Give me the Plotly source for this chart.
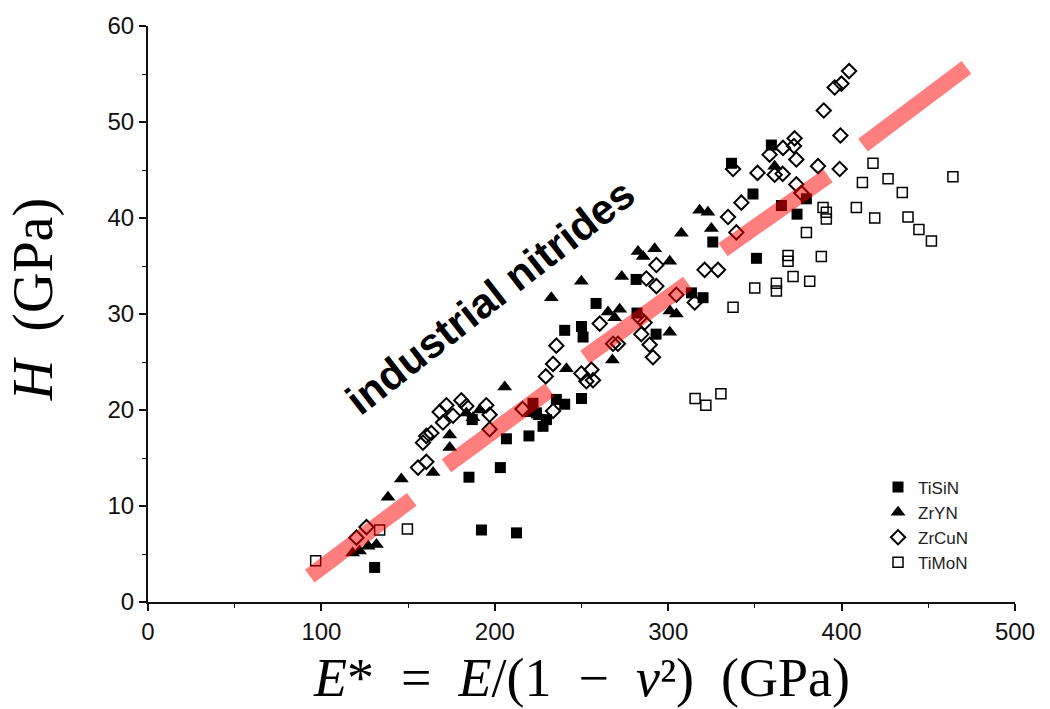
import plotly.graph_objects as go

# ---------------- data ----------------
tisin_x = [130.7, 185.1, 203.2, 192.3, 212.5, 206.7, 219.7, 224.0, 227.8, 229.8, 235.5, 240.3,
           222.0, 187.0, 250.0, 258.4, 240.3, 250.0, 250.9, 281.5, 282.0, 293.0, 320.1, 313.4,
           325.7, 350.9, 348.9, 365.3, 374.3, 379.7, 336.5, 359.5]
tisin_y = [3.6, 13.0, 14.0, 7.5, 7.2, 17.0, 17.3, 19.7, 18.3, 19.0, 21.1, 20.6,
           20.7, 19.0, 21.2, 31.1, 28.3, 28.7, 27.6, 33.6, 30.1, 27.9, 31.7, 32.2,
           37.5, 35.8, 42.5, 41.3, 40.4, 42.0, 45.7, 47.6]

zryn_x = [118.0, 122.0, 127.0, 131.7, 138.4, 146.1, 164.4, 174.0, 174.0, 183.6, 187.4, 191.3,
          205.7, 221.0, 226.0, 232.6, 241.3, 249.9, 265.3, 267.8, 272.0, 269.1, 273.2, 282.6,
          285.5, 292.2, 300.9, 300.9, 301.0, 304.7, 307.6, 318.1, 322.9, 324.9, 361.4]
zryn_y = [5.1, 5.3, 5.8, 6.0, 10.9, 12.8, 13.5, 16.1, 17.4, 19.7, 19.2, 20.0,
          22.4, 19.6, 19.3, 31.7, 24.3, 33.4, 30.2, 25.2, 30.5, 29.6, 33.9, 36.5,
          36.0, 36.8, 35.5, 28.1, 30.3, 30.0, 38.4, 40.8, 40.6, 38.9, 45.4]

zrcun_x = [120.2, 126.0, 155.7, 160.5, 158.6, 163.4, 160.5, 168.2, 172.1, 170.1, 175.9, 180.7,
           183.6, 195.1, 197.0, 197.0, 216.0, 233.6, 229.4, 233.6, 235.5, 249.9, 252.8, 256.6,
           255.7, 260.5, 268.2, 271.0, 283.6, 286.4, 284.5, 289.3, 291.2, 287.4, 293.2, 293.2,
           304.7, 315.3, 321.0, 328.7, 334.5, 339.3, 342.2, 351.5, 361.4, 366.0, 373.9, 376.8,
           386.4, 398.9, 373.9, 372.9, 372.5, 366.2, 358.5, 389.7, 396.0, 399.9, 404.3, 399.3,
           337.4]
zrcun_y = [6.7, 7.8, 14.0, 14.6, 16.6, 17.6, 17.3, 19.8, 20.5, 18.7, 19.4, 21.0,
           20.4, 20.5, 19.5, 18.0, 20.1, 19.9, 23.5, 24.8, 26.7, 23.8, 23.0, 23.1,
           24.2, 29.0, 26.9, 26.9, 29.6, 29.1, 27.9, 26.8, 25.5, 33.7, 32.9, 35.1,
           32.0, 31.2, 34.6, 34.6, 40.1, 38.5, 41.6, 44.7, 44.5, 44.6, 43.5, 42.6,
           45.4, 45.1, 46.1, 48.3, 47.5, 47.3, 46.6, 51.2, 53.6, 54.0, 55.3, 48.6,
           45.1]

timon_x = [96.7, 133.6, 149.6, 315.5, 321.7, 330.4, 337.4, 349.9, 362.4, 362.4, 372.0, 381.6,
           369.1, 369.1, 388.3, 379.7, 389.3, 391.2, 391.2, 408.5, 418.1, 412.0, 426.8, 435.0,
           464.2, 419.1, 438.3, 444.6, 451.8]
timon_y = [4.3, 7.5, 7.6, 21.2, 20.5, 21.7, 30.7, 32.7, 33.2, 32.4, 33.9, 33.4,
           36.1, 35.5, 36.0, 38.5, 41.1, 40.6, 39.9, 41.1, 45.7, 43.7, 44.1, 42.65,
           44.3, 40.0, 40.1, 38.8, 37.6]

# industrial nitrides band segments (start, end)
band_x = [[93.3, 152.1], [172.1, 231.7], [252.0, 311.3], [331.6, 392.2], [412.3, 472.0]]
band_y = [[2.7, 10.7], [14.2, 22.1], [25.5, 33.2], [36.7, 44.4], [47.6, 55.7]]

series_names = ["TiSiN", "ZrYN", "ZrCuN", "TiMoN"]
x_ticks = [0, 100, 200, 300, 400, 500]
y_ticks = [0, 10, 20, 30, 40, 50, 60]

# ---------------- figure ----------------
fig = go.Figure()

fig.add_trace(go.Scatter(x=tisin_x, y=tisin_y, mode="markers", name=series_names[0],
                         marker=dict(symbol="square", size=11, color="black",
                                     line=dict(width=0))))
fig.add_trace(go.Scatter(x=zryn_x, y=zryn_y, mode="markers", name=series_names[1],
                         marker=dict(symbol="triangle-up", size=13, color="black",
                                     line=dict(width=0))))
fig.add_trace(go.Scatter(x=zrcun_x, y=zrcun_y, mode="markers", name=series_names[2],
                         marker=dict(symbol="diamond-open", size=11, color="black",
                                     line=dict(width=2, color="black"))))
fig.add_trace(go.Scatter(x=timon_x, y=timon_y, mode="markers", name=series_names[3],
                         marker=dict(symbol="square-open", size=10, color="black",
                                     line=dict(width=1.5, color="black"))))

for bx, by in zip(band_x, band_y):
    fig.add_trace(go.Scatter(x=bx, y=by, mode="lines", showlegend=False, hoverinfo="skip",
                             line=dict(color="rgba(255,0,0,0.5)", width=16)))

fig.add_annotation(text="<b>industrial nitrides</b>", x=197.5, y=31.8, xref="x", yref="y",
                   showarrow=False, textangle=-38,
                   font=dict(family="Liberation Sans, Arial, sans-serif", size=42, color="black"))

fig.add_annotation(text="<i>E</i>*\u2002=\u2002<i>E</i>/(1\u2002\u2212\u2002<i>ν</i>\u00b2)\u2002(GPa)",
                   x=0.5, y=-0.1324, xref="paper", yref="paper", showarrow=False,
                   xanchor="center", yanchor="middle",
                   font=dict(family="Liberation Serif, Times New Roman, serif", size=54, color="black"))

fig.add_annotation(text="<i>H</i>\u2002(GPa)",
                   x=-0.132, y=0.525, xref="paper", yref="paper", showarrow=False,
                   xanchor="center", yanchor="middle", textangle=-90,
                   font=dict(family="Liberation Serif, Times New Roman, serif", size=56, color="black"))

axis_common = dict(showgrid=False, zeroline=False, showline=True, linecolor="#111", linewidth=2,
                   ticks="outside", ticklen=7, tickwidth=1.5, tickcolor="#111",
                   tickfont=dict(family="Liberation Sans, Arial, sans-serif", size=24, color="#111"),
                   mirror=False)

fig.update_xaxes(range=[0, 500], tickvals=x_ticks, ticktext=[str(v) for v in x_ticks],
                 minor=dict(dtick=50, ticks="outside", ticklen=4, tickcolor="#111", tickwidth=1.2),
                 **axis_common)
fig.update_yaxes(range=[0, 60], tickvals=y_ticks, ticktext=[str(v) for v in y_ticks],
                 minor=dict(dtick=5, ticks="outside", ticklen=4, tickcolor="#111", tickwidth=1.2),
                 **axis_common)

fig.update_layout(
    width=1050, height=709,
    margin=dict(l=148, r=35, t=18, b=107),
    plot_bgcolor="white", paper_bgcolor="white",
    showlegend=True,
    legend=dict(x=0.842, y=0.23, xanchor="left", yanchor="top",
                bgcolor="rgba(0,0,0,0)",
                font=dict(family="Liberation Sans, Arial, sans-serif", size=17, color="#222")),
)

fig.write_html("out.html",
               config={"displayModeBar": False},
               post_script="document.body.style.margin='0px';document.body.style.padding='0px';"
                           "document.body.style.overflow='hidden';")
